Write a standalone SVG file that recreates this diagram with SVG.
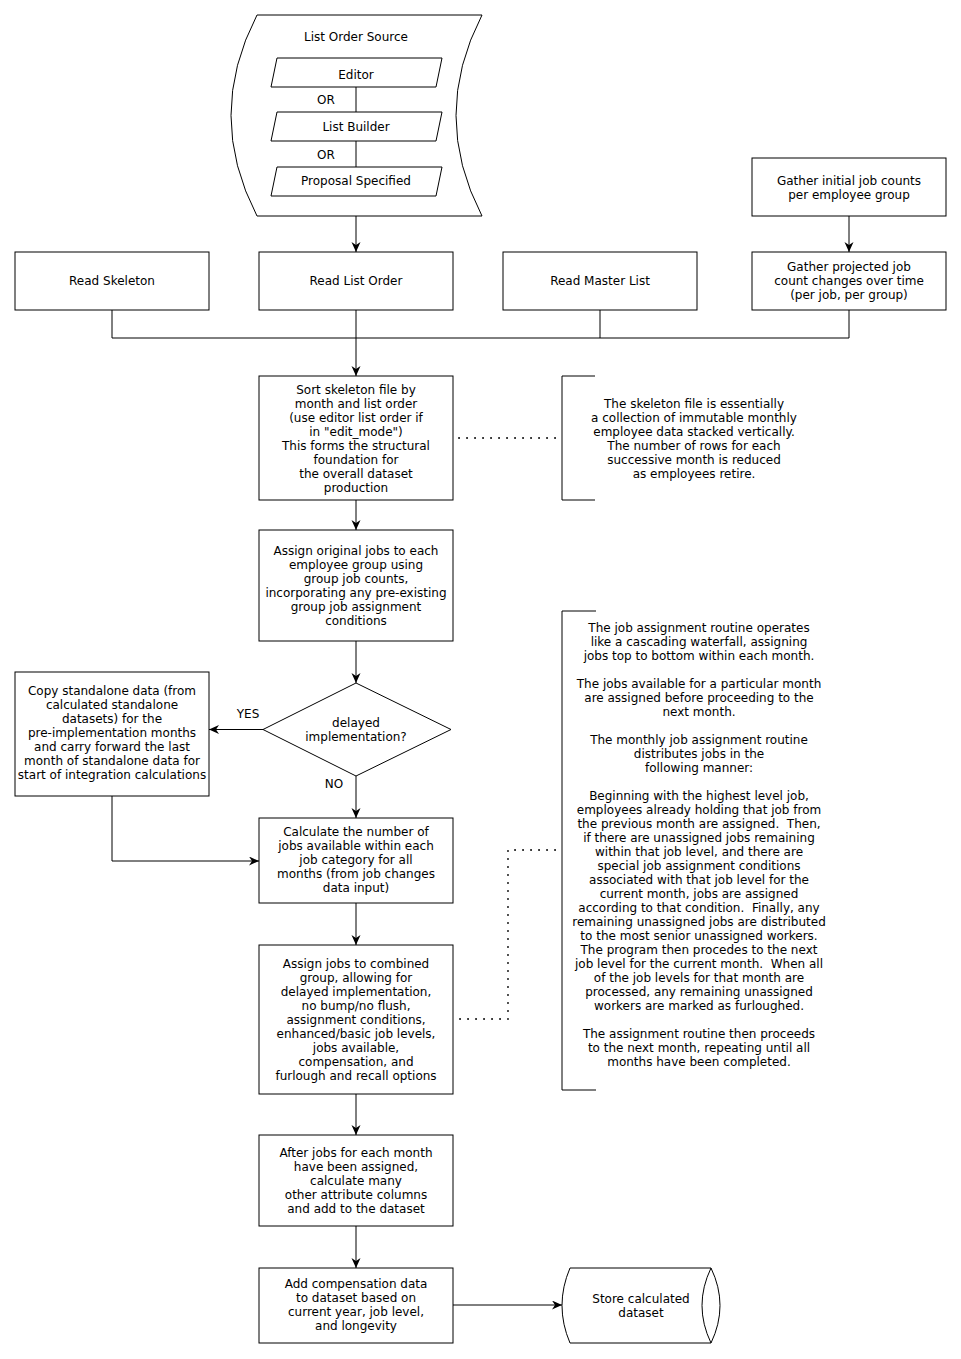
<svg xmlns="http://www.w3.org/2000/svg" width="961" height="1359" viewBox="0 0 961 1359">
<style>
.n{fill:#fff;stroke:#000;stroke-width:1}
.t{font-family:"DejaVu Sans","Liberation Sans",sans-serif;font-size:12px;fill:#000;text-anchor:middle}
.c{fill:none;stroke:#000;stroke-width:1}
.d{fill:none;stroke:#000;stroke-width:1.8;stroke-dasharray:0.1 7.9;stroke-linecap:round}
</style>
<defs>
<marker id="ah" markerUnits="userSpaceOnUse" markerWidth="12" markerHeight="10" refX="10" refY="4.5" orient="auto">
<path d="M0,0 L10,4.5 L0,9 L3,4.5 Z" fill="#000"/>
</marker>
</defs>
<rect width="961" height="1359" fill="#fff"/>

<g id="list_order_source">
<path class="n" d="M257,15 L482,15 Q430,115.5 482,216 L257,216 Q205,115.5 257,15 Z"/>
<text class="t" x="356" y="41">List Order Source</text>
</g>
<g id="editor">
<polygon class="n" points="277,58 442,58 436,87 271,87"/>
<text class="t" x="356" y="79">Editor</text>
</g>
<g id="list_builder">
<polygon class="n" points="277,112 442,112 436,141 271,141"/>
<text class="t" x="356" y="131">List Builder</text>
</g>
<g id="proposal_specified">
<polygon class="n" points="277,167 442,167 436,196 271,196"/>
<text class="t" x="356" y="185">Proposal Specified</text>
</g>

<g id="read_skeleton">
<rect class="n" x="15" y="252" width="194" height="58"/>
<text class="t" x="112" y="285">Read Skeleton</text>
</g>
<g id="read_list_order">
<rect class="n" x="259" y="252" width="194" height="58"/>
<text class="t" x="356" y="285">Read List Order</text>
</g>
<g id="read_master_list">
<rect class="n" x="503" y="252" width="194" height="58"/>
<text class="t" x="600" y="285">Read Master List</text>
</g>
<g id="gather_initial">
<rect class="n" x="752" y="158" width="194" height="58"/>
<text class="t" x="849" y="185">Gather initial job counts</text>
<text class="t" x="849" y="199">per employee group</text>
</g>
<g id="gather_projected">
<rect class="n" x="752" y="252" width="194" height="58"/>
<text class="t" x="849" y="271">Gather projected job</text>
<text class="t" x="849" y="285">count changes over time</text>
<text class="t" x="849" y="299">(per job, per group)</text>
</g>

<g id="sort_skeleton">
<rect class="n" x="259" y="376" width="194" height="124"/>
<text class="t" x="356" y="394">Sort skeleton file by</text>
<text class="t" x="356" y="408">month and list order</text>
<text class="t" x="356" y="422">(use editor list order if</text>
<text class="t" x="356" y="436">in "edit_mode")</text>
<text class="t" x="356" y="450">This forms the structural</text>
<text class="t" x="356" y="464">foundation for</text>
<text class="t" x="356" y="478">the overall dataset</text>
<text class="t" x="356" y="492">production</text>
</g>
<g id="skeleton_note">
<polyline class="c" points="595,376 562,376 562,500 595,500"/>
<text class="t" x="694" y="408">The skeleton file is essentially</text>
<text class="t" x="694" y="422">a collection of immutable monthly</text>
<text class="t" x="694" y="436">employee data stacked vertically.</text>
<text class="t" x="694" y="450">The number of rows for each</text>
<text class="t" x="694" y="464">successive month is reduced</text>
<text class="t" x="694" y="478">as employees retire.</text>
</g>

<g id="assign_original">
<rect class="n" x="259" y="530" width="194" height="111"/>
<text class="t" x="356" y="555">Assign original jobs to each</text>
<text class="t" x="356" y="569">employee group using</text>
<text class="t" x="356" y="583">group job counts,</text>
<text class="t" x="356" y="597">incorporating any pre-existing</text>
<text class="t" x="356" y="611">group job assignment</text>
<text class="t" x="356" y="625">conditions</text>
</g>

<g id="delayed_decision">
<polygon class="n" points="356,683 451,729.5 356,776 263,729.5"/>
<text class="t" x="356" y="727">delayed</text>
<text class="t" x="356" y="741">implementation?</text>
</g>

<g id="copy_standalone">
<rect class="n" x="15" y="672" width="194" height="124"/>
<text class="t" x="112" y="695">Copy standalone data (from</text>
<text class="t" x="112" y="709">calculated standalone</text>
<text class="t" x="112" y="723">datasets) for the</text>
<text class="t" x="112" y="737">pre-implementation months</text>
<text class="t" x="112" y="751">and carry forward the last</text>
<text class="t" x="112" y="765">month of standalone data for</text>
<text class="t" x="112" y="779">start of integration calculations</text>
</g>

<g id="calc_available">
<rect class="n" x="259" y="818" width="194" height="85"/>
<text class="t" x="356" y="836">Calculate the number of</text>
<text class="t" x="356" y="850">jobs available within each</text>
<text class="t" x="356" y="864">job category for all</text>
<text class="t" x="356" y="878">months (from job changes</text>
<text class="t" x="356" y="892">data input)</text>
</g>

<g id="assign_combined">
<rect class="n" x="259" y="945" width="194" height="149"/>
<text class="t" x="356" y="968">Assign jobs to combined</text>
<text class="t" x="356" y="982">group, allowing for</text>
<text class="t" x="356" y="996">delayed implementation,</text>
<text class="t" x="356" y="1010">no bump/no flush,</text>
<text class="t" x="356" y="1024">assignment conditions,</text>
<text class="t" x="356" y="1038">enhanced/basic job levels,</text>
<text class="t" x="356" y="1052">jobs available,</text>
<text class="t" x="356" y="1066">compensation, and</text>
<text class="t" x="356" y="1080">furlough and recall options</text>
</g>

<g id="assignment_note">
<polyline class="c" points="596,611 562,611 562,1090 596,1090"/>
<text class="t" x="699" y="632">The job assignment routine operates</text>
<text class="t" x="699" y="646">like a cascading waterfall, assigning</text>
<text class="t" x="699" y="660">jobs top to bottom within each month.</text>
<text class="t" x="699" y="688">The jobs available for a particular month</text>
<text class="t" x="699" y="702">are assigned before proceeding to the</text>
<text class="t" x="699" y="716">next month.</text>
<text class="t" x="699" y="744">The monthly job assignment routine</text>
<text class="t" x="699" y="758">distributes jobs in the</text>
<text class="t" x="699" y="772">following manner:</text>
<text class="t" x="699" y="800">Beginning with the highest level job,</text>
<text class="t" x="699" y="814">employees already holding that job from</text>
<text class="t" x="699" y="828" xml:space="preserve">the previous month are assigned.  Then,</text>
<text class="t" x="699" y="842">if there are unassigned jobs remaining</text>
<text class="t" x="699" y="856">within that job level, and there are</text>
<text class="t" x="699" y="870">special job assignment conditions</text>
<text class="t" x="699" y="884">associated with that job level for the</text>
<text class="t" x="699" y="898">current month, jobs are assigned</text>
<text class="t" x="699" y="912" xml:space="preserve">according to that condition.  Finally, any</text>
<text class="t" x="699" y="926">remaining unassigned jobs are distributed</text>
<text class="t" x="699" y="940">to the most senior unassigned workers.</text>
<text class="t" x="699" y="954">The program then procedes to the next</text>
<text class="t" x="699" y="968" xml:space="preserve">job level for the current month.  When all</text>
<text class="t" x="699" y="982">of the job levels for that month are</text>
<text class="t" x="699" y="996">processed, any remaining unassigned</text>
<text class="t" x="699" y="1010">workers are marked as furloughed.</text>
<text class="t" x="699" y="1038">The assignment routine then proceeds</text>
<text class="t" x="699" y="1052">to the next month, repeating until all</text>
<text class="t" x="699" y="1066">months have been completed.</text>
</g>

<g id="after_jobs">
<rect class="n" x="259" y="1135" width="194" height="91"/>
<text class="t" x="356" y="1157">After jobs for each month</text>
<text class="t" x="356" y="1171">have been assigned,</text>
<text class="t" x="356" y="1185">calculate many</text>
<text class="t" x="356" y="1199">other attribute columns</text>
<text class="t" x="356" y="1213">and add to the dataset</text>
</g>

<g id="add_compensation">
<rect class="n" x="259" y="1268" width="194" height="75"/>
<text class="t" x="356" y="1288">Add compensation data</text>
<text class="t" x="356" y="1302">to dataset based on</text>
<text class="t" x="356" y="1316">current year, job level,</text>
<text class="t" x="356" y="1330">and longevity</text>
</g>

<g id="store_dataset">
<path class="n" d="M570,1268 L711,1268 Q729,1305.5 711,1343 L570,1343 Q554,1305.5 570,1268 Z"/>
<path class="c" d="M711,1268 Q693,1305.5 711,1343"/>
<text class="t" x="641" y="1303">Store calculated</text>
<text class="t" x="641" y="1317">dataset</text>
</g>

<g id="connectors">
<line class="c" x1="356" y1="216" x2="356" y2="252" marker-end="url(#ah)"/>
<line class="c" x1="356" y1="87" x2="356" y2="112"/>
<line class="c" x1="356" y1="141" x2="356" y2="167"/>
<line class="c" x1="849" y1="216" x2="849" y2="252" marker-end="url(#ah)"/>
<polyline class="c" points="112,310 112,338 849,338 849,310"/>
<line class="c" x1="600" y1="310" x2="600" y2="338"/>
<line class="c" x1="356" y1="310" x2="356" y2="376" marker-end="url(#ah)"/>
<line class="c" x1="356" y1="500" x2="356" y2="530" marker-end="url(#ah)"/>
<line class="c" x1="356" y1="641" x2="356" y2="683" marker-end="url(#ah)"/>
<line class="c" x1="263" y1="729.5" x2="209" y2="729.5" marker-end="url(#ah)"/>
<line class="c" x1="356" y1="776" x2="356" y2="818" marker-end="url(#ah)"/>
<polyline class="c" points="112,796 112,861 259,861" marker-end="url(#ah)"/>
<line class="c" x1="356" y1="903" x2="356" y2="945" marker-end="url(#ah)"/>
<line class="c" x1="356" y1="1094" x2="356" y2="1135" marker-end="url(#ah)"/>
<line class="c" x1="356" y1="1226" x2="356" y2="1268" marker-end="url(#ah)"/>
<line class="c" x1="453" y1="1305" x2="562" y2="1305" marker-end="url(#ah)"/>
<line class="d" x1="459" y1="438" x2="558" y2="438"/>
<polyline class="d" points="460,1019 508,1019 508,850 556,850"/>
<text class="t" x="248" y="718">YES</text>
<text class="t" x="334" y="788">NO</text>
<text class="t" x="326" y="104">OR</text>
<text class="t" x="326" y="159">OR</text>
</g>
</svg>
